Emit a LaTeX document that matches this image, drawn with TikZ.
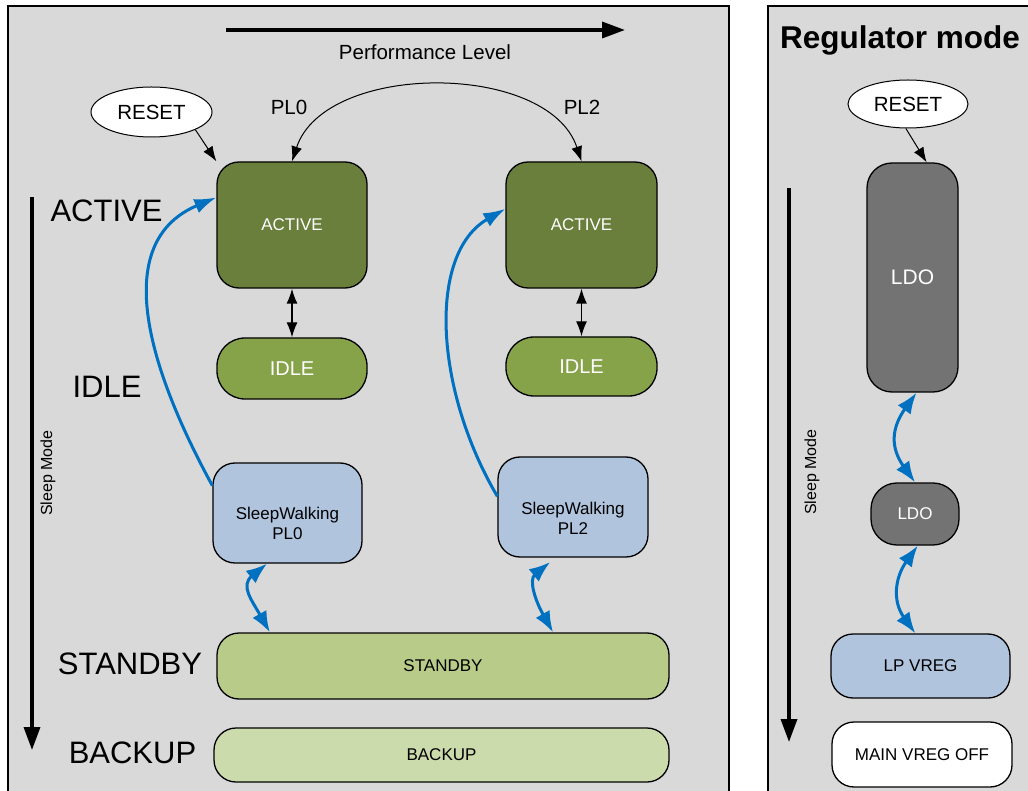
\documentclass[tikz,border=0pt]{standalone}
\usepackage{fontspec}
\setmainfont{Liberation Sans}
\usetikzlibrary{arrows.meta, shapes.geometric}

\definecolor{panelgrey}{HTML}{D9D9D9}
\definecolor{activegreen}{HTML}{6A7F3B}
\definecolor{idlegreen}{HTML}{87A34A}
\definecolor{standbygreen}{HTML}{B8CB88}
\definecolor{backupgreen}{HTML}{CCDBAB}
\definecolor{walkblue}{HTML}{B0C4DE}
\definecolor{ldogrey}{HTML}{737373}
\definecolor{linkblue}{HTML}{0070C0}

\begin{document}
\begin{tikzpicture}[
  x=1pt, y=-1pt,
  panel/.style={draw, line width=2pt, fill=panelgrey},
  modebox/.style={draw, line width=1.3pt, rounded corners=22pt, inner sep=0pt, align=center, font=\fontsize{17}{20}\selectfont},
  darkbox/.style={modebox, text=white},
  oval/.style={draw, ellipse, fill=white, line width=1pt, inner sep=0pt, font=\fontsize{20.5}{24}\selectfont},
  biglabel/.style={font=\fontsize{31}{36}\selectfont},
  toplabel/.style={font=\fontsize{20.5}{24}\selectfont},
  sidelabel/.style={rotate=90, font=\fontsize{16}{19}\selectfont},
  arrow/.style={-{Latex[length=15pt,width=11pt]}, line width=1pt},
  twoway/.style={{Latex[length=15pt,width=11pt]}-{Latex[length=15pt,width=11pt]}, line width=1.3pt},
  wake/.style={-{Latex[length=22pt,width=15pt]}, line width=3pt, draw=linkblue},
  hop/.style={{Latex[length=21pt,width=16pt]}-{Latex[length=21pt,width=16pt]}, line width=3pt, draw=linkblue},
  levelarrow/.style={-{Triangle[length=23pt,width=16pt]}, line width=3.5pt}
]
\useasboundingbox (0,0) rectangle (1028,791);
\clip (0,0) rectangle (1028,791);

% panels
\draw[panel] (8,6) rectangle (729,800);
\draw[panel] (768,6) rectangle (1040,800);

% performance level / sleep mode axes
\coordinate (perfstart) at (226,30);
\coordinate (perfend) at (625,30);
\draw[levelarrow] (perfstart) -- (perfend);
\node[toplabel] (perf) at (425,52) {Performance Level};

\coordinate (sleeptop) at (32,197);
\coordinate (sleepbot) at (32,750);
\draw[levelarrow] (sleeptop) -- (sleepbot);
\node[sidelabel] (sleep) at (48,473) {Sleep Mode};

\node[biglabel] (lblactive) at (106.5,211) {ACTIVE};
\node[biglabel] (lblidle) at (107,387) {IDLE};
\node[biglabel] (lblstandby) at (130,664) {STANDBY};
\node[biglabel] (lblbackup) at (132.5,752.5) {BACKUP};

% left panel states
\node[oval, minimum width=121pt, minimum height=50pt] (reset0) at (151.5,112) {RESET};
\node[toplabel] (pl0) at (289,107) {PL0};
\node[toplabel] (pl2) at (582,107) {PL2};

\node[darkbox, fill=activegreen, minimum width=150pt, minimum height=126pt] (act0) at (292,225) {ACTIVE};
\node[darkbox, fill=activegreen, minimum width=151pt, minimum height=126pt] (act2) at (581.5,225) {ACTIVE};
\node[darkbox, fill=idlegreen, rounded corners=28pt, minimum width=150pt, minimum height=61pt, font=\fontsize{20}{24}\selectfont] (idle0) at (292,368.5) {IDLE};
\node[darkbox, fill=idlegreen, rounded corners=28pt, minimum width=151pt, minimum height=59pt, font=\fontsize{20}{24}\selectfont] (idle2) at (581.5,366.5) {IDLE};
\node[modebox, fill=walkblue, minimum width=149pt, minimum height=100pt] (walk0) at (287.5,513) {\mbox{}\\[14pt]SleepWalking\\PL0};
\node[modebox, fill=walkblue, minimum width=150pt, minimum height=100pt] (walk2) at (573,507) {\mbox{}\\[14pt]SleepWalking\\PL2};
\node[modebox, fill=standbygreen, minimum width=452pt, minimum height=66pt] (standby) at (443,666) {STANDBY};
\node[modebox, fill=backupgreen, minimum width=455pt, minimum height=54pt] (backup) at (441.5,755) {BACKUP};

\draw[arrow] (reset0.-22) -- (act0.north west);
\draw[twoway, line width=1pt] (act0.north) .. controls +(33,-100) and +(-33,-100) .. (act2.north);
\draw[twoway] (act0.south) -- (idle0.north);
\draw[twoway] (act2.south) -- (idle2.north);

\draw[wake] (walk0.160) .. controls +(-73,-134) and +(-100,42) .. (act0.160);
\draw[wake] (walk2.172.4) .. controls +(-63,-107) and +(-78,45) .. (act2.168.8);
\draw[hop] (walk0.248) .. controls +(-27,22) and +(-18,-32) .. (standby.169.7);
\draw[hop, shorten <=7pt] (walk2.251.7) .. controls +(-27,22) and +(-18,-32) .. (standby.17.1);

% regulator mode panel
\node[font=\fontsize{31.5}{36}\selectfont\bfseries, anchor=base] (regtitle) at (900,49) {Regulator mode};

\coordinate (regtop) at (789,188);
\coordinate (regbot) at (789,742);
\draw[levelarrow] (regtop) -- (regbot);
\node[sidelabel] (regsleep) at (812,472) {Sleep Mode};

\node[oval, minimum width=120pt, minimum height=48pt] (reset1) at (908,104) {RESET};
\node[darkbox, fill=ldogrey, rounded corners=25pt, minimum width=91pt, minimum height=229pt, font=\fontsize{21}{24}\selectfont] (ldo0) at (912.5,277.5) {LDO};
\node[darkbox, fill=ldogrey, rounded corners=26pt, minimum width=88pt, minimum height=62pt] (ldo1) at (915,514) {LDO};
\node[modebox, fill=walkblue, minimum width=179pt, minimum height=64pt] (lpvreg) at (920.5,666) {LP VREG};
\node[modebox, fill=white, minimum width=180pt, minimum height=65pt] (mainoff) at (922,754.5) {MAIN VREG OFF};

\draw[arrow] (reset1.265) -- (ldo0.83.8);
\draw[hop] (ldo0.272.25) .. controls +(-25,35) and +(-25,-35) .. (ldo1.north);
\draw[hop] (ldo1.275.5) .. controls +(-23,32) and +(-23,-32) .. (lpvreg.99.75);

\end{tikzpicture}
\end{document}
